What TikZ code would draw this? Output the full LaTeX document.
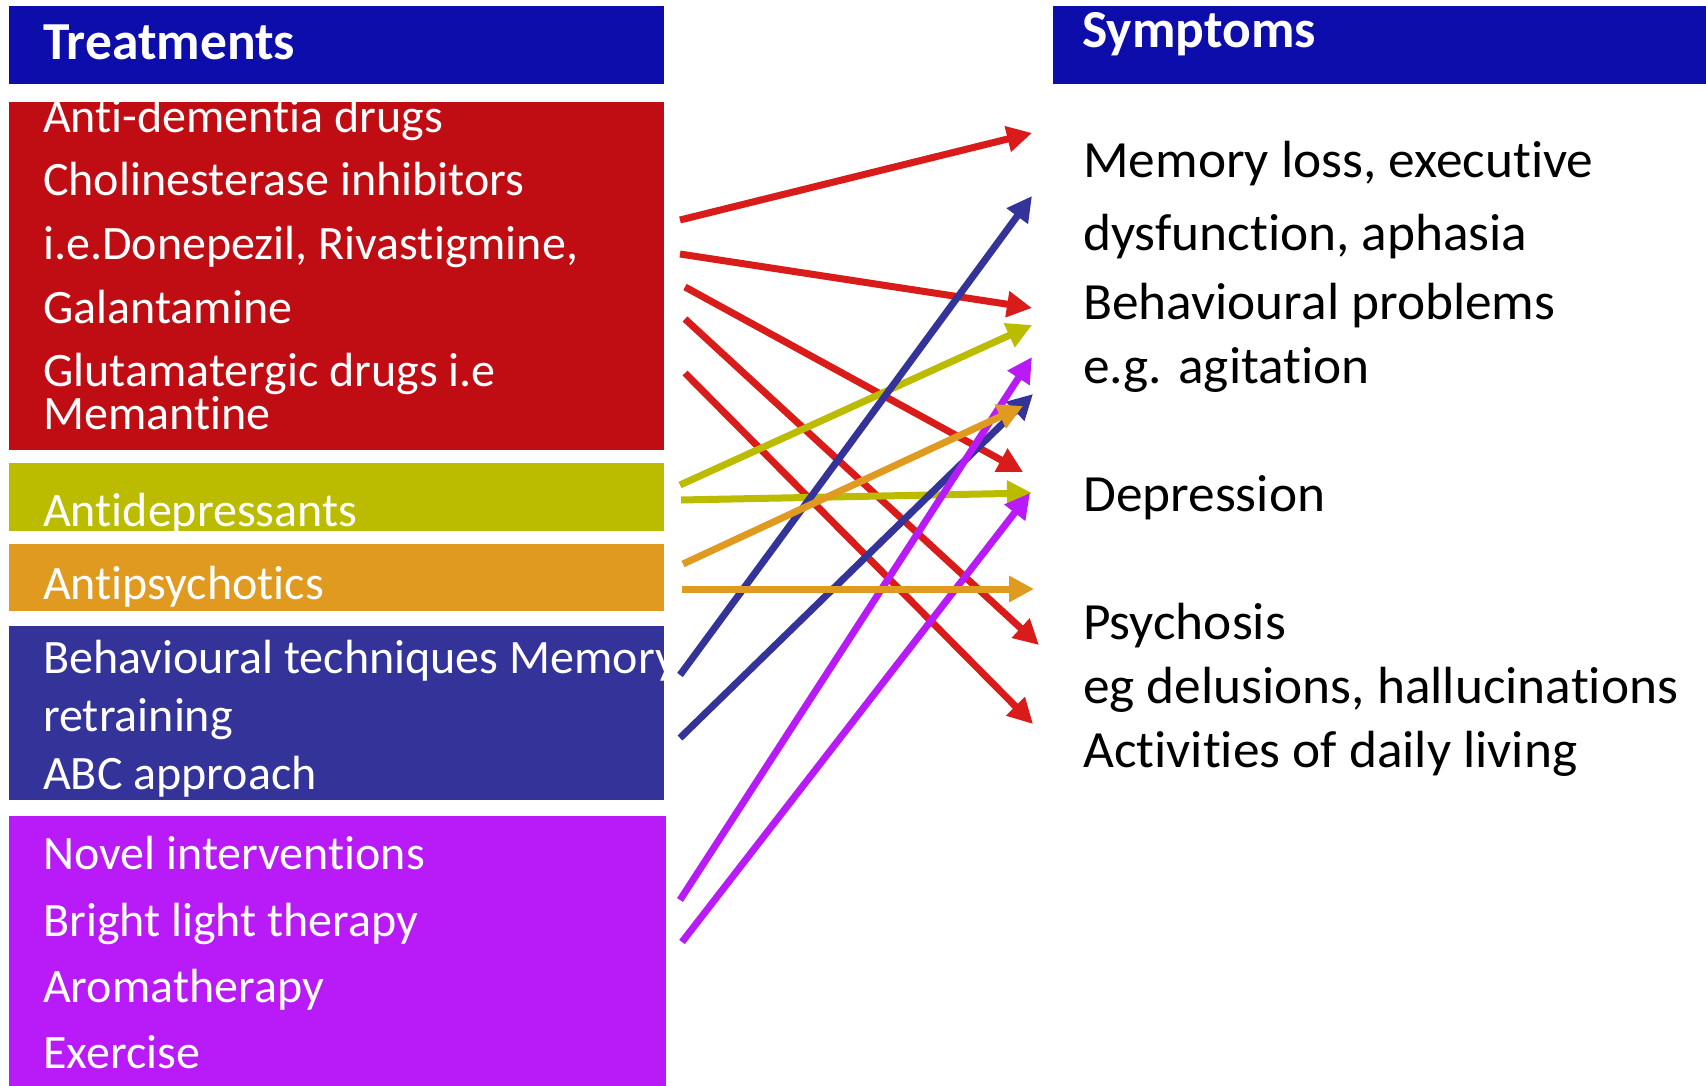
\documentclass[tikz,border=0pt]{standalone}
\usepackage{fontspec}
\setmainfont[Ligatures=NoCommon]{Carlito}
\newfontfamily\symfont[Ligatures=NoCommon,FakeStretch=1.02]{Carlito}
\usetikzlibrary{arrows.meta}

\definecolor{hdrblue}{RGB}{13,13,171}
\definecolor{boxred}{RGB}{192,13,20}
\definecolor{arrred}{RGB}{217,27,26}
\definecolor{olive}{RGB}{187,187,0}
\definecolor{amber}{RGB}{225,154,32}
\definecolor{indigo}{RGB}{52,51,153}
\definecolor{violet}{RGB}{184,27,248}

\tikzset{
  panel/.style={draw=none, inner sep=0pt, outer sep=0pt, anchor=north west},
  hdrtext/.style={anchor=base west, inner sep=0pt, text=white,
    font=\bfseries\fontsize{53.5}{60}\selectfont},
  boxtext/.style={anchor=base west, inner sep=0pt, text=white,
    font=\fontsize{48}{57}\selectfont},
  symtext/.style={anchor=base west, inner sep=0pt, text=black,
    font=\symfont\fontsize{52.3}{60}\selectfont},
  link/.style={line width=7pt,
    -{Triangle[length=25pt,width=25pt]}}
}

\begin{document}
\begin{tikzpicture}[x=1pt,y=-1pt]
\useasboundingbox (0,0) rectangle (1706,1086);

% ---- headers ----
\node[panel, fill=hdrblue, minimum width=655pt, minimum height=78pt] (treathdr) at (9,6) {};
\node[hdrtext] (treatlbl) at (43,60) {Treatments};
\node[panel, fill=hdrblue, minimum width=653pt, minimum height=78pt] (symhdr) at (1053,6) {};
\node[hdrtext] (symlbl) at (1082,48) {Symptoms};

% ---- treatment panels ----
\node[panel, fill=boxred, minimum width=655pt, minimum height=348pt] (dementia) at (9,102) {};
\node[panel, fill=olive,  minimum width=655pt, minimum height=68pt]  (depress)  at (9,463) {};
\node[panel, fill=amber,  minimum width=655pt, minimum height=67pt]  (psych)    at (9,544) {};
\node[panel, fill=indigo, minimum width=655pt, minimum height=174pt] (behav)    at (9,626) {};
\node[panel, fill=violet, minimum width=657pt, minimum height=270pt] (novel)    at (9,816) {};

% ---- treatment texts ----
\node[boxtext] (d1) at (43,133) {Anti-dementia drugs};
\node[boxtext] (d2) at (43,196) {Cholinesterase inhibitors};
\node[boxtext] (d3) at (43,259) {i.e.Donepezil, Rivastigmine,};
\node[boxtext] (d4) at (43,323) {Galantamine};
\node[boxtext] (d5) at (43,386) {Glutamatergic drugs i.e};
\node[boxtext] (d6) at (43,429) {Memantine};
\begin{scope}
  \clip (9,463) rectangle (664,531);
  \node[boxtext] (e1) at (43,526) {Antidepressants};
\end{scope}
\node[boxtext] (p1) at (43,599) {Antipsychotics};
\begin{scope}
  \clip (9,626) rectangle (664,800);
  \node[boxtext] (b1) at (43,673) {Behavioural techniques Memory};
\end{scope}
\node[boxtext] (b2) at (43,731) {retraining};
\node[boxtext] (b3) at (43,789) {ABC approach};
\node[boxtext] (n1) at (43,869) {Novel interventions};
\node[boxtext] (n2) at (43,936) {Bright light therapy};
\node[boxtext] (n3) at (43,1002) {Aromatherapy};
\node[boxtext] (n4) at (43,1068) {Exercise};

% ---- symptom texts ----
\node[symtext] (s1) at (1083,178) {Memory loss, executive};
\node[symtext] (s2) at (1083,251) {dysfunction, aphasia};
\node[symtext] (s3) at (1083,319) {Behavioural problems};
\node[symtext] (s4) at (1083,383) {e.g. agitation};
\node[symtext] (s5) at (1083,511) {Depression};
\node[symtext] (s6) at (1083,639) {Psychosis};
\node[symtext] (s7) at (1083,703) {eg delusions, hallucinations};
\node[symtext] (s8) at (1083,767) {Activities of daily living};

% ---- arrow end points ----
\coordinate (ra) at (680,220);  \coordinate (raE) at (1032,133);
\coordinate (rb) at (680,254);  \coordinate (rbE) at (1032,308);
\coordinate (rc) at (685,287);  \coordinate (rcE) at (1023,472);
\coordinate (rd) at (685,319);  \coordinate (rdE) at (1039,645);
\coordinate (re) at (685,373);  \coordinate (reE) at (1033,724);
\coordinate (ya) at (680,485);  \coordinate (yaE) at (1032,325);
\coordinate (yb) at (681,500);  \coordinate (ybE) at (1032,493);
\coordinate (oa) at (683,564);  \coordinate (oaE) at (1023,406);
\coordinate (ob) at (682,589);  \coordinate (obE) at (1034,589);
\coordinate (ba) at (680,675);  \coordinate (baE) at (1032,196);
\coordinate (bb) at (680,738);  \coordinate (bbE) at (1033,394);
\coordinate (va) at (680,900);  \coordinate (vaE) at (1032,357);
\coordinate (vb) at (682,942);  \coordinate (vbE) at (1030,493);

% ---- arrows ----
\draw[link, arrred] (ra) -- (raE);
\draw[link, arrred] (rb) -- (rbE);
\draw[link, arrred] (rc) -- (rcE);
\draw[link, arrred] (rd) -- (rdE);
\draw[link, arrred] (re) -- (reE);
\draw[link, olive] (ya) -- (yaE);
\draw[link, olive] (yb) -- (ybE);
\draw[link, indigo] (ba) -- (baE);
\draw[link, indigo] (bb) -- (bbE);
\draw[link, violet] (va) -- (vaE);
\draw[link, violet] (vb) -- (vbE);
\draw[link, amber] (oa) -- (oaE);
\draw[link, amber] (ob) -- (obE);
\end{tikzpicture}
\end{document}
